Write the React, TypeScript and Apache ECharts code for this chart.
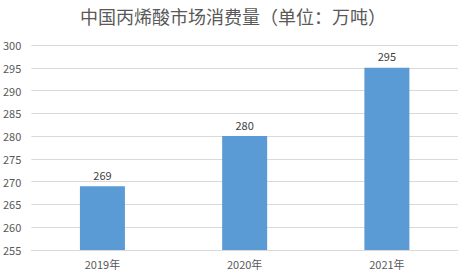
import React, { useEffect, useRef } from "react";
import * as echarts from "echarts";

const categories = ["2019年", "2020年", "2021年"];
const consumption = [269, 280, 295];
const yMin = 255;
const yMax = 300;
const yStep = 5;

const FONT = "'Noto Sans CJK SC', 'Noto Sans', sans-serif";

export default function App() {
  const ref = useRef<HTMLDivElement>(null);

  useEffect(() => {
    if (!ref.current) return;
    const chart = echarts.init(ref.current, undefined, { renderer: "svg" });
    chart.setOption({
      animation: false,
      backgroundColor: "#ffffff",
      textStyle: { fontFamily: FONT },
      title: {
        text: "中国丙烯酸市场消费量（单位：万吨）",
        left: 228,
        top: 2,
        textAlign: "center",
        textStyle: { fontSize: 18, fontWeight: "normal", color: "#595959", fontFamily: FONT },
      },
      grid: { left: 30, right: 12, top: 45, bottom: 30 },
      xAxis: {
        type: "category",
        data: categories,
        axisLine: { lineStyle: { color: "#d9d9d9" } },
        axisTick: { show: false },
        axisLabel: { color: "#595959", fontSize: 11, margin: 8, fontFamily: FONT },
      },
      yAxis: {
        type: "value",
        min: yMin,
        max: yMax,
        interval: yStep,
        axisLine: { show: false },
        axisTick: { show: false },
        axisLabel: { color: "#595959", fontSize: 11, margin: 10, fontFamily: FONT },
        splitLine: { lineStyle: { color: "#d9d9d9" } },
      },
      series: [
        {
          type: "bar",
          data: consumption,
          barWidth: 45,
          itemStyle: { color: "#5b9bd5" },
          label: {
            show: true,
            position: "top",
            distance: 6,
            color: "#404040",
            fontSize: 11,
            fontFamily: FONT,
          },
        },
      ],
    });
    return () => chart.dispose();
  }, []);

  return <div ref={ref} style={{ width: 470, height: 280, position: "absolute", left: 0, top: 0 }} />;
}
